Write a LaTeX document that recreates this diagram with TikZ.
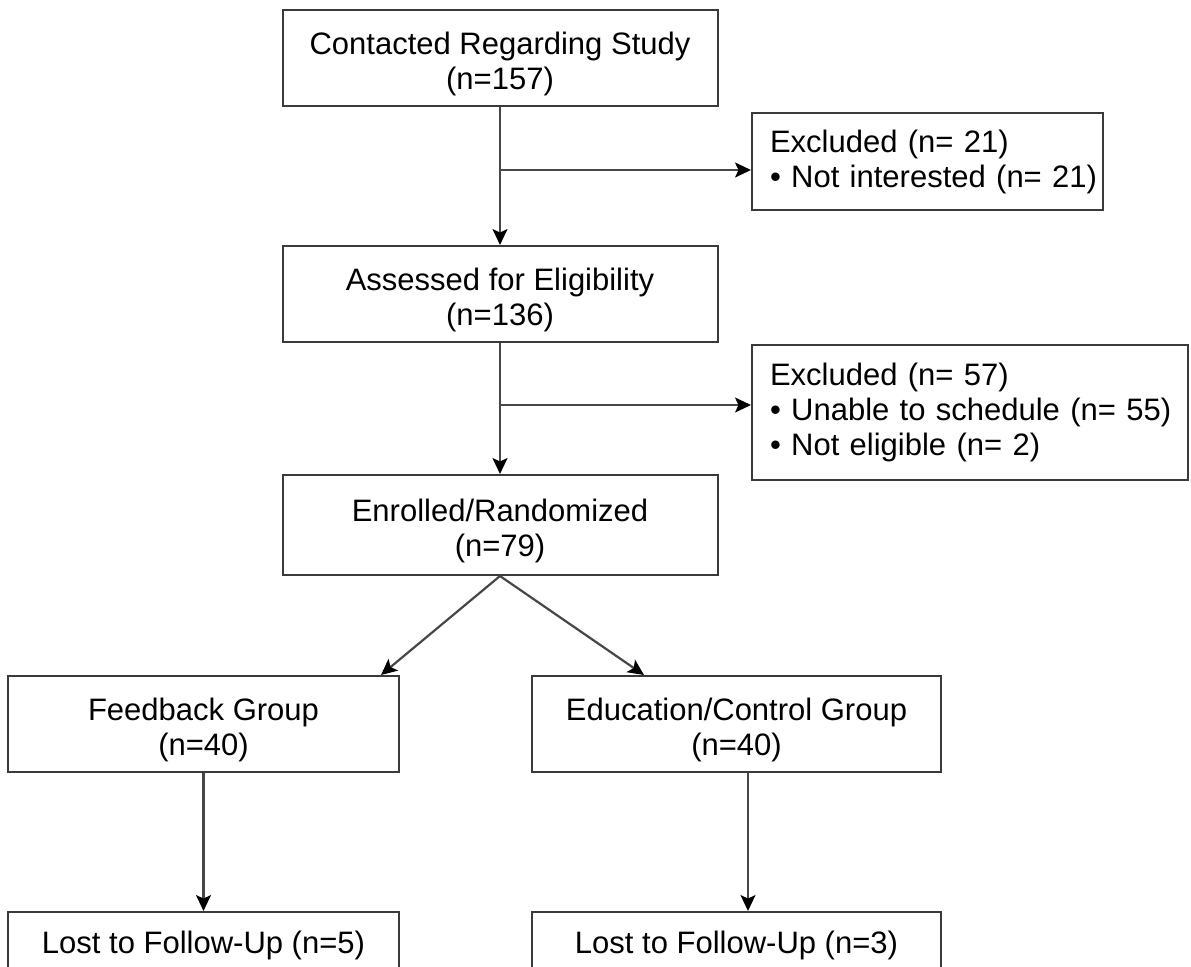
\documentclass[tikz,border=0pt]{standalone}
\usepackage{fontspec}
\setmainfont{Liberation Sans}
\usepackage{xcolor}
\usetikzlibrary{arrows.meta,calc}
\definecolor{boxline}{HTML}{3A3A3A}
\definecolor{flowline}{HTML}{474747}
\newcommand{\topstrut}{\rule{0pt}{17.5pt}}

\begin{document}
\begin{tikzpicture}[
  x=0.5pt, y=-0.5pt,
  >={Stealth[length=8pt,width=7.5pt,inset=1.8pt,color=black]},
  line join=miter,
  every node/.style={font=\fontsize{15.5}{17.5}\selectfont},
  stagebox/.style={draw=boxline, line width=1pt, align=center, inner sep=0pt},
  exclbox/.style={draw=boxline, line width=1pt, align=left, inner xsep=9pt, inner ysep=0pt},
  flow/.style={->, draw=flowline, line width=1.1pt}
]
  \fill[white] (0,0) rectangle (1191,966);
  \clip (0,0) rectangle (1191,966);

  % Main column
  \node[stagebox, minimum width=217.5pt, minimum height=48pt] (contact) at (500,58)
    {\topstrut Contacted Regarding Study\\(n=157)};
  \node[stagebox, minimum width=217.5pt, minimum height=48pt] (assess) at (500,294)
    {\topstrut Assessed for Eligibility\\(n=136)};
  \node[stagebox, minimum width=217.5pt, minimum height=50pt] (enrol) at (500,525)
    {\topstrut Enrolled/Randomized\\(n=79)};

  % Exclusions
  \node[exclbox, text width=157.5pt, minimum height=48.5pt] (excl1) at (927.5,161.5)
    {\mbox{Excluded (n= 21)}\\\mbox{• Not interested (n= 21)}};
  \node[exclbox, text width=200pt, minimum height=67.5pt] (excl2) at (970,412.5)
    {\mbox{Excluded (n= 57)}\\\mbox{• Unable to schedule (n= 55)}\\\mbox{• Not eligible (n= 2)}};

  % Groups
  \node[stagebox, minimum width=195.5pt, minimum height=48pt] (feedback) at (203.5,724)
    {\topstrut Feedback Group\\(n=40)};
  \node[stagebox, minimum width=204.5pt, minimum height=48pt] (educ) at (736.5,724)
    {\topstrut Education/Control Group\\(n=40)};

  % Follow-up (cut at the lower edge)
  \node[stagebox, minimum width=195.5pt, minimum height=33pt] (lost1) at (203.5,945)
    {Lost to Follow-Up (n=5)};
  \node[stagebox, minimum width=204.5pt, minimum height=33pt] (lost2) at (736.5,945)
    {Lost to Follow-Up (n=3)};

  % Branch points
  \coordinate (b1) at (500,170);
  \coordinate (b2) at (500,405);

  \draw[flow] (contact) -- (assess);
  \draw[flow] (assess) -- (enrol);
  \draw[flow] (b1) -- (b1 -| excl1.west);
  \draw[flow] (b2) -- (b2 -| excl2.west);

  \draw[flow] (enrol.south) -- ($(feedback.north east)+(-19,0)$);
  \draw[flow] (enrol.south) -- ($(educ.north west)+(113,0)$);

  \draw[flow] (feedback) -- (lost1);
  \draw[flow] ($(educ.south west)+(217,0)$) -- ($(lost2.north west)+(217,0)$);
\end{tikzpicture}
\end{document}
